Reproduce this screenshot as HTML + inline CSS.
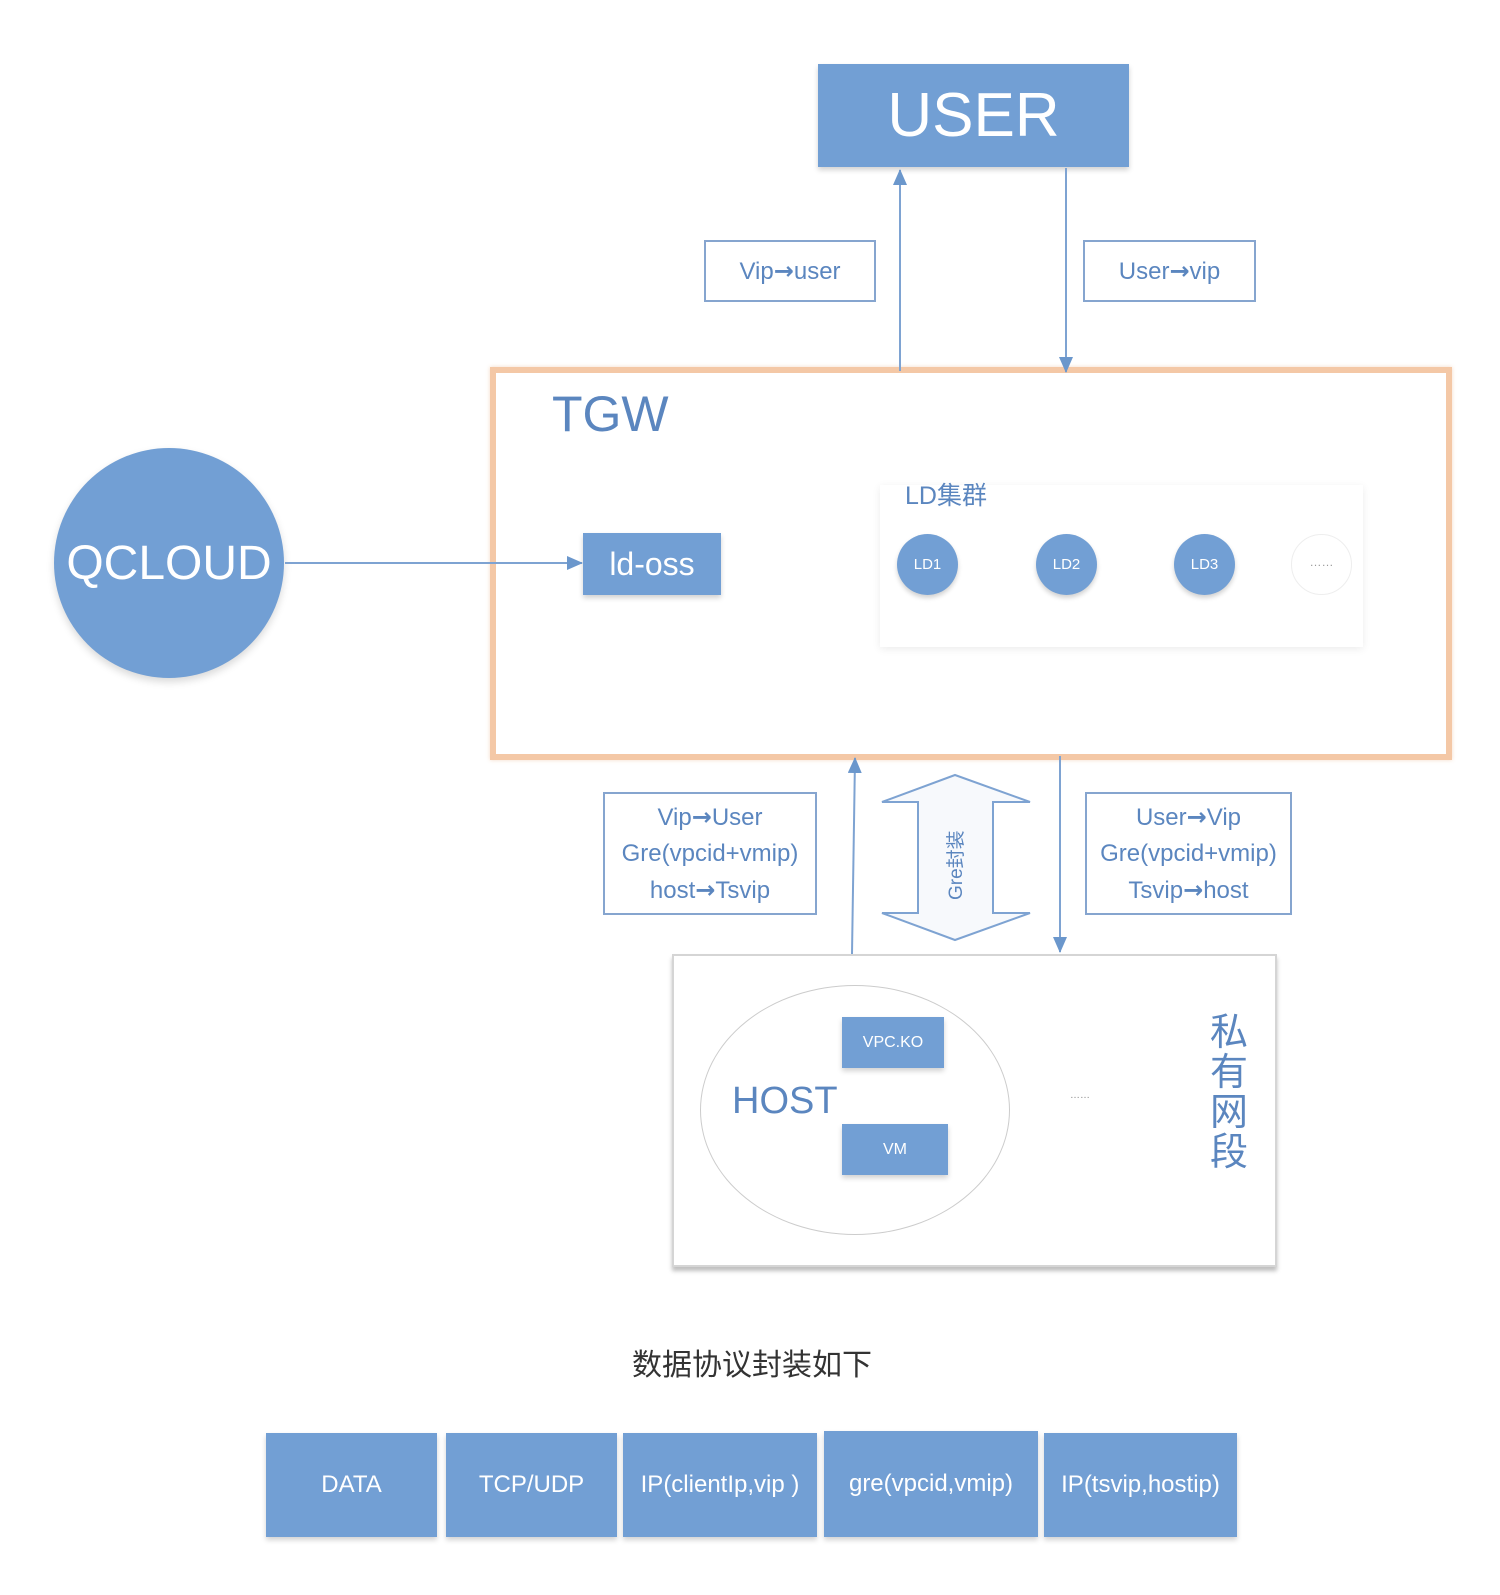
<!DOCTYPE html>
<html><head><meta charset="utf-8"><style>
body{margin:0;width:1500px;height:1595px;background:#fff;position:relative;overflow:hidden;font-family:"Liberation Sans","Noto Sans CJK SC",sans-serif}
.a{position:absolute;box-sizing:border-box}
.blue{background:#729fd4;color:#fff;display:flex;align-items:center;justify-content:center;box-shadow:0 3px 5px rgba(0,0,0,.18)}
.lbl{border:2px solid #86a5cf;background:#fff;color:#5b86bf;display:flex;align-items:center;justify-content:center;text-align:center}
.c{border-radius:50%}
.ar{font-family:"DejaVu Sans",sans-serif;font-weight:bold}
</style></head><body>
<div class="a blue" style="left:818px;top:64px;width:311px;height:103px;font-size:62px">USER</div>
<div class="a lbl" style="left:704px;top:240px;width:172px;height:62px;font-size:24px"><div>Vip<span class="ar">→</span>user</div></div>
<div class="a lbl" style="left:1083px;top:240px;width:173px;height:62px;font-size:24px"><div>User<span class="ar">→</span>vip</div></div>
<div class="a" style="left:490px;top:367px;width:962px;height:393px;border:6px solid #f4c8a6;box-shadow:0 0 4px rgba(230,160,110,.4)"></div>
<div class="a" style="left:552px;top:385px;font-size:50px;color:#5b86bf">TGW</div>
<div class="a blue c" style="left:54px;top:448px;width:230px;height:230px;font-size:48px;box-shadow:0 4px 8px rgba(0,0,0,.15)">QCLOUD</div>
<div class="a blue" style="left:583px;top:533px;width:138px;height:62px;font-size:32px">ld-oss</div>
<div class="a" style="left:880px;top:485px;width:483px;height:162px;box-shadow:0 2px 8px rgba(0,0,0,.08);background:#fff"></div>
<div class="a" style="left:905px;top:476px;font-size:25px;color:#5b86bf">LD集群</div>
<div class="a blue c" style="left:897px;top:534px;width:61px;height:61px;font-size:15px">LD1</div>
<div class="a blue c" style="left:1036px;top:534px;width:61px;height:61px;font-size:15px">LD2</div>
<div class="a blue c" style="left:1174px;top:534px;width:61px;height:61px;font-size:15px">LD3</div>
<div class="a c" style="left:1291px;top:534px;width:61px;height:61px;border:1px solid #eee;font-size:12px;color:#999;text-align:center;line-height:55px">……</div>
<div class="a lbl" style="left:603px;top:792px;width:214px;height:123px;font-size:24px;line-height:36px"><div>Vip<span class="ar">→</span>User<br>Gre(vpcid+vmip)<br>host<span class="ar">→</span>Tsvip</div></div>
<div class="a lbl" style="left:1085px;top:792px;width:207px;height:123px;font-size:24px;line-height:36px"><div>User<span class="ar">→</span>Vip<br>Gre(vpcid+vmip)<br>Tsvip<span class="ar">→</span>host</div></div>
<div class="a" style="left:672px;top:954px;width:605px;height:313px;border:2px solid #d5d5d5;background:#fff;box-shadow:0 4px 4px rgba(0,0,0,.25)"></div>
<div class="a" style="left:700px;top:985px;width:310px;height:250px;border:1px solid #ccc;border-radius:50%"></div>
<div class="a" style="left:732px;top:1080px;font-size:38px;color:#5b86bf">HOST</div>
<div class="a blue" style="left:842px;top:1017px;width:102px;height:51px;font-size:16px">VPC.KO</div>
<div class="a blue" style="left:842px;top:1124px;width:106px;height:51px;font-size:16px">VM</div>
<div class="a" style="left:1070px;top:1090px;font-size:10px;color:#888">……</div>
<div class="a" style="left:1210px;top:1013px;width:40px;font-size:38px;line-height:40px;color:#5b86bf">私有网段</div>
<svg class="a" style="left:0;top:0" width="1500" height="1595">
<defs><marker id="n" markerWidth="16" markerHeight="14" refX="15" refY="7" orient="auto" markerUnits="userSpaceOnUse" viewBox="0 0 16 14"><path d="M0,0L16,7L0,14z" fill="#6b97cc"/></marker></defs>
<g stroke="#7ea3d2" stroke-width="2" fill="none">
<line x1="900" y1="371" x2="900" y2="170" marker-end="url(#n)"/>
<line x1="1066" y1="168" x2="1066" y2="372" marker-end="url(#n)"/>
<line x1="285" y1="563" x2="582" y2="563" marker-end="url(#n)"/>
<line x1="852" y1="954" x2="855" y2="758" marker-end="url(#n)"/>
<line x1="1060" y1="756" x2="1060" y2="952" marker-end="url(#n)"/>
<path d="M955,775L1030,802H993V913H1030L955,940L882,913H918V802H882Z" fill="#f7f9fc" stroke="#7ea3d2"/>
</g>
<text transform="translate(962,900) rotate(-90)" font-size="19" fill="#5b86bf" font-family="Liberation Sans,Noto Sans CJK SC,sans-serif">Gre封装</text>
</svg>
<div class="a" style="left:632px;top:1340px;font-size:30px;color:#333">数据协议封装如下</div>
<div class="a blue" style="left:266px;top:1433px;width:171px;height:104px;font-size:24px">DATA</div>
<div class="a blue" style="left:446px;top:1433px;width:171px;height:104px;font-size:24px">TCP/UDP</div>
<div class="a blue" style="left:623px;top:1433px;width:194px;height:104px;font-size:24px">IP(clientIp,vip )</div>
<div class="a blue" style="left:824px;top:1431px;width:214px;height:106px;font-size:24px">gre(vpcid,vmip)</div>
<div class="a blue" style="left:1044px;top:1433px;width:193px;height:104px;font-size:24px">IP(tsvip,hostip)</div>
</body></html>
